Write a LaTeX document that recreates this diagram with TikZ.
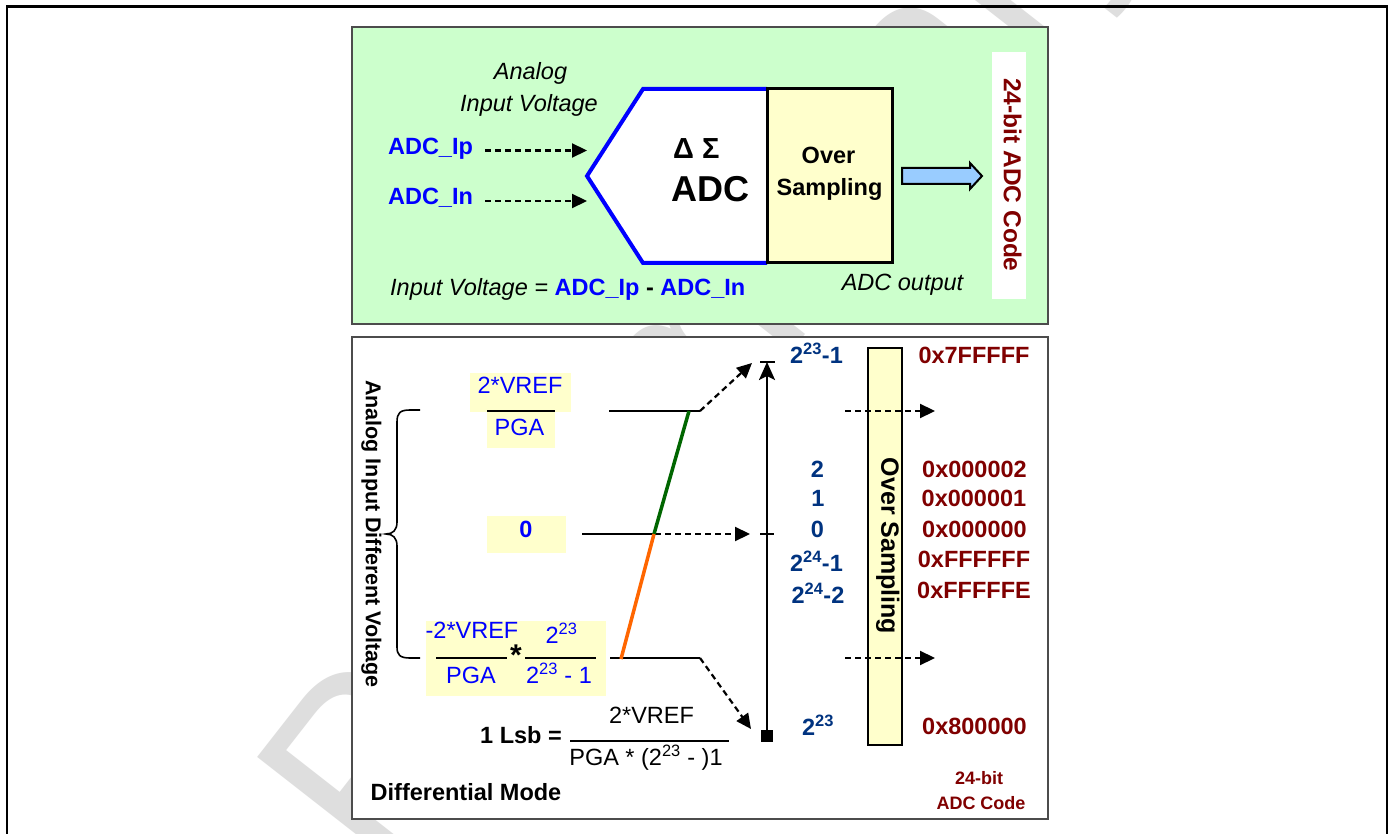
\documentclass[tikz,border=0pt]{standalone}
\usepackage{fontspec}
\setmainfont{Liberation Sans}
\usetikzlibrary{arrows.meta}
\definecolor{pgreen}{HTML}{CCFFCC}
\definecolor{pyellow}{HTML}{FFFFCC}
\definecolor{ablue}{HTML}{99CCFF}
\definecolor{navy}{RGB}{0,51,128}
\definecolor{dred}{RGB}{128,0,0}
\definecolor{brd}{gray}{0.3}
\definecolor{wmark}{gray}{0.87}
\newcommand\myfs[1]{\fontsize{#1}{#1}\selectfont}
\begin{document}
\begin{tikzpicture}[x=1pt,y=-1pt,
  txt/.style={inner sep=0pt, text height=0.716em, text depth=0pt, font=\myfs{23.5}},
  btxt/.style={txt, font=\myfs{23.5}\bfseries},
  itxt/.style={txt, font=\myfs{23.5}\itshape},
  bluet/.style={btxt, text=blue},
  navyt/.style={btxt, text=navy},
  hext/.style={btxt, text=dred},
  ybox/.style={fill=pyellow, draw=none, inner sep=0pt},
  dasharrow/.style={line width=2.2pt, dash pattern=on 6pt off 4pt, -{Triangle[length=15pt,width=14pt]}},
  solidline/.style={line width=2.6pt},
  panel/.style={draw=brd, line width=1.6pt},
  fracline/.style={line width=2.8pt}]
\useasboundingbox (0,0) rectangle (1393,834);
\fill[white] (0,0) rectangle (1393,834);
% watermark
\node[text=wmark, font=\myfs{250}, rotate=52, inner sep=0pt, anchor=base west] (wm) at (380,880) {Preliminary};
% outer frame
\draw[line width=2.5pt] (7,834) -- (7,6.5) -- (1387,6.5) -- (1387,834);
% panels
\draw[panel, fill=pgreen] (352,27) rectangle (1048,324);
\draw[panel, fill=white] (352,337) rectangle (1048,819);

% ===== top panel =====
\draw[blue, line width=4pt, fill=white, line join=miter] (767,89) -- (643,89) -- (587,176) -- (643,263) -- (767,263);
\node[draw=black, line width=3pt, fill=pyellow, minimum width=125pt, minimum height=174pt, inner sep=0pt] (os) at (829.5,176) {};
\node[btxt, font=\myfs{29}\bfseries, anchor=west] (ds) at (673,155) {Δ Σ};
\node[btxt, font=\myfs{36}\bfseries, anchor=west] (adc) at (671,198) {ADC};
\node[btxt] (over) at (828.5,160) {Over};
\node[btxt] (samp) at (829.5,191.5) {Sampling};
\node[itxt] (an1) at (530.5,76) {Analog};
\node[itxt] (an2) at (529,108) {Input Voltage};
\node[bluet] (ip) at (430.5,150.5) {ADC\_Ip};
\node[bluet] (in) at (430.5,201) {ADC\_In};
\coordinate (ipend) at (587,150.5);
\coordinate (inend) at (587,201);
\draw[dasharrow] (485,150.5) -- (ipend);
\draw[dasharrow] (485,201) -- (inend);
\node[itxt, anchor=west] (eq) at (390,292) {Input Voltage = {\upshape\bfseries\color{blue}ADC\_Ip}{\upshape\bfseries\ -\ }{\upshape\bfseries\color{blue}ADC\_In}};
\node[itxt] (aout) at (902.5,286.5) {ADC output};
\draw[line width=2pt, fill=ablue, line join=miter] (902,168) -- (970,168) -- (970,163) -- (982,176) -- (970,189) -- (970,184) -- (902,184) -- cycle;
\node[fill=white, minimum width=34pt, minimum height=247pt, inner sep=0pt] (codebox) at (1009,175.5) {};
\node[hext, font=\myfs{24.5}\bfseries, rotate=-90] (code) at (1007.5,175) {24-bit ADC Code};

% ===== bottom panel =====
\node[btxt, font=\myfs{21.5}\bfseries, rotate=-90] (aidv) at (369.5,534) {Analog Input Different Voltage};
\draw[line width=1.6pt] (420,410) -- (410,410) .. controls (400,410) and (397,413) .. (397,422) -- (397,522) .. controls (397,530) and (393,534) .. (386,534) .. controls (393,534) and (397,538) .. (397,546) -- (397,647) .. controls (397,655) and (400,658) .. (410,658) -- (420,658);
% top fraction
\fill[pyellow] (470,373) rectangle (571,412);
\fill[pyellow] (487,412) rectangle (555,448);
\node[txt, text=blue] (vref1) at (520,389.5) {2*VREF};
\node[txt, text=blue] (pga1) at (519.5,431.5) {PGA};
\draw[fracline] (487,411) -- (555,411);
% zero
\node[ybox, minimum width=79pt, minimum height=37pt] (zbox) at (526.5,534.5) {};
\node[bluet] (zero) at (526,533.5) {0};
% bottom fraction
\fill[pyellow] (426,621) rectangle (606,696);
\node[txt, text=blue] (vref2) at (472,635) {-2*VREF};
\node[txt, text=blue] (pga2) at (471,679.5) {PGA};
\node[txt, text=blue] (p23a) at (561.5,640) {2\textsuperscript{23}};
\node[txt, text=blue] (p23b) at (559,679.5) {2\textsuperscript{23} - 1};
\node[btxt, font=\myfs{30}\bfseries] (star) at (516,662) {*};
\draw[fracline] (436,658) -- (507,658);
\draw[fracline] (525,658) -- (596,658);
% level lines
\coordinate (topL) at (700,411);
\coordinate (midL) at (655,534);
\coordinate (botL) at (700,658);
\coordinate (vtop) at (767,362);
\coordinate (vbot) at (767,736);
\draw[solidline] (609,411) -- (topL);
\draw[solidline] (582,534) -- (midL);
\draw[solidline] (610,658) -- (botL);
\draw[dasharrow] (topL) -- (752,363);
\draw[dasharrow] (midL) -- (750,534);
\draw[dasharrow] (botL) -- (751,729);
\draw[line width=3.5pt, color={rgb,255:red,0;green,102;blue,0}] (689,411) -- (654,534);
\draw[line width=3.5pt, color={rgb,255:red,255;green,102;blue,0}] (654,534) -- (621,659);
% vertical scale
\draw[solidline, -{Stealth[length=18pt,width=16pt,inset=4pt]}] (vbot) -- (vtop);
\draw[solidline] (760,362) -- (775,362);
\draw[solidline] (760,534) -- (774,534);
\fill (761,730) rectangle (773,742);
% Lsb formula
\node[btxt] (lsb) at (521,740) {1 Lsb =};
\node[txt] (vref3) at (651.5,720) {2*VREF};
\node[txt] (pga3) at (646,761.5) {PGA * (2\textsuperscript{23} - )1};
\draw[line width=2.6pt] (570,741) -- (729,741);
\node[btxt] (dm) at (466,796.5) {Differential Mode};
% over sampling column
\node[draw=black, line width=2.4pt, fill=pyellow, minimum width=34pt, minimum height=397pt, inner sep=0pt] (os2) at (885,546.5) {};
\node[btxt, font=\myfs{25}\bfseries, rotate=-90] (os2t) at (885,546) {Over Sampling};
\draw[dasharrow] (845,411) -- (935,411);
\draw[dasharrow] (845,658) -- (935,658);
% codes
\node[navyt] (c1) at (816.5,360) {2\textsuperscript{23}-1};
\node[navyt] (c2) at (817.5,473.5) {2};
\node[navyt] (c3) at (818,503) {1};
\node[navyt] (c4) at (817.5,533.5) {0};
\node[navyt] (c5) at (816.5,567.5) {2\textsuperscript{24}-1};
\node[navyt] (c6) at (818,600) {2\textsuperscript{24}-2};
\node[navyt] (c7) at (818,731.5) {2\textsuperscript{23}};
\node[hext] (h1) at (974,360) {0x7FFFFF};
\node[hext] (h2) at (974.5,473.5) {0x000002};
\node[hext] (h3) at (974,503) {0x000001};
\node[hext] (h4) at (974.5,533.5) {0x000000};
\node[hext] (h5) at (974,563.5) {0xFFFFFF};
\node[hext] (h6) at (974,595) {0xFFFFFE};
\node[hext] (h7) at (974.5,730.5) {0x800000};
\node[hext, font=\myfs{18}\bfseries] (b1) at (979,780.5) {24-bit};
\node[hext, font=\myfs{18}\bfseries] (b2) at (981,805.5) {ADC Code};
\end{tikzpicture}
\end{document}
